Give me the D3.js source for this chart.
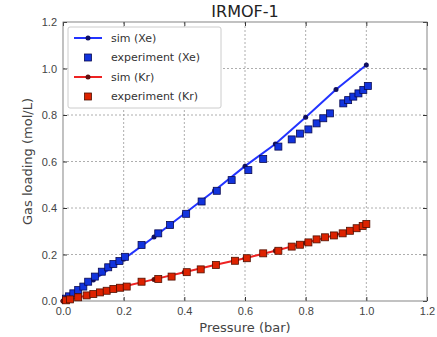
<!DOCTYPE html>
<html>
<head>
<meta charset="utf-8">
<script src="https://cdn.jsdelivr.net/npm/d3@7"></script>
<style>
  body { margin: 0; background: #fff; }
  svg { font-family: "DejaVu Sans", sans-serif; }
  .grid line { stroke: #999; stroke-dasharray: 2,2; stroke-width: 0.8; }
  .tick text { fill: #444; font-size: 11px; }
</style>
</head>
<body>
<svg id="chart"></svg>
<script>
// simulated isotherms (pressure in bar, loading in mol/L)
const simPressure = [0, 0.1, 0.2, 0.3, 0.4, 0.5, 0.6, 0.7, 0.8, 0.9, 1.0];
const simXe = [0, 0.09, 0.18, 0.275, 0.375, 0.475, 0.58, 0.675, 0.79, 0.91, 1.015];
const simKr = [0, 0.03, 0.062, 0.093, 0.124, 0.155, 0.184, 0.216, 0.25, 0.285, 0.33];

// experimental points
const expXePressure = [0.01, 0.02, 0.034, 0.05, 0.067, 0.083, 0.105, 0.128, 0.149, 0.166, 0.186, 0.204,
  0.259, 0.314, 0.353, 0.406, 0.457, 0.507, 0.556, 0.611, 0.66, 0.71, 0.754, 0.781, 0.809, 0.836,
  0.858, 0.88, 0.924, 0.94, 0.957, 0.974, 0.99, 1.005];
const expXe = [0.01, 0.02, 0.033, 0.047, 0.062, 0.083, 0.105, 0.126, 0.145, 0.159, 0.172, 0.19,
  0.241, 0.291, 0.327, 0.375, 0.428, 0.474, 0.52, 0.563, 0.611, 0.664, 0.695, 0.72, 0.738, 0.764,
  0.786, 0.807, 0.85, 0.864, 0.879, 0.893, 0.908, 0.925];
const expKrPressure = [0.01, 0.023, 0.05, 0.078, 0.1, 0.122, 0.144, 0.166, 0.188, 0.21, 0.259, 0.314,
  0.358, 0.408, 0.454, 0.504, 0.567, 0.606, 0.66, 0.71, 0.754, 0.781, 0.809, 0.836, 0.864, 0.893,
  0.922, 0.946, 0.968, 0.988, 1.0];
const expKr = [0.003, 0.007, 0.016, 0.024, 0.03, 0.037, 0.044, 0.052, 0.057, 0.062, 0.083, 0.095,
  0.105, 0.124, 0.136, 0.155, 0.173, 0.184, 0.205, 0.216, 0.234, 0.242, 0.252, 0.265, 0.274, 0.282,
  0.291, 0.302, 0.313, 0.323, 0.331];

const xTicks = [0, 0.2, 0.4, 0.6, 0.8, 1.0, 1.2];
const yTicks = [0, 0.2, 0.4, 0.6, 0.8, 1.0, 1.2];

const width = 437, height = 337;
const margin = { top: 22, right: 10, bottom: 36, left: 63 };
const innerW = width - margin.left - margin.right;
const innerH = height - margin.top - margin.bottom;

const svg = d3.select("#chart").attr("width", width).attr("height", height);
const g = svg.append("g").attr("transform", `translate(${margin.left},${margin.top})`);

const x = d3.scaleLinear().domain([0, 1.2]).range([0, innerW]);
const y = d3.scaleLinear().domain([0, 1.2]).range([innerH, 0]);

// grid
g.append("g").attr("class", "grid")
  .selectAll("line").data(xTicks.slice(1, -1)).join("line")
  .attr("x1", d => x(d)).attr("x2", d => x(d)).attr("y1", 0).attr("y2", innerH);
g.append("g").attr("class", "grid")
  .selectAll("line").data(yTicks.slice(1, -1)).join("line")
  .attr("y1", d => y(d)).attr("y2", d => y(d)).attr("x1", 0).attr("x2", innerW);

// axes, ticks pointing inward like matplotlib classic
const fmt = d3.format(".1f");
const styleAxis = sel => {
  sel.select(".domain").remove();
  sel.selectAll(".tick line").attr("stroke", "#333");
};
g.append("g").attr("transform", `translate(0,${innerH})`)
  .call(d3.axisBottom(x).tickValues(xTicks).tickFormat(fmt).tickSizeInner(-4).tickPadding(6))
  .call(styleAxis);
g.append("g")
  .call(d3.axisLeft(y).tickValues(yTicks).tickFormat(fmt).tickSizeInner(-4).tickPadding(6))
  .call(styleAxis);
g.append("g")
  .call(d3.axisTop(x).tickValues(xTicks).tickFormat("").tickSizeInner(-4))
  .call(styleAxis);
g.append("g").attr("transform", `translate(${innerW},0)`)
  .call(d3.axisRight(y).tickValues(yTicks).tickFormat("").tickSizeInner(-4))
  .call(styleAxis);

g.append("rect").attr("width", innerW).attr("height", innerH)
  .attr("fill", "none").attr("stroke", "#666").attr("stroke-width", 0.8);

// series
const line = d3.line().x(d => x(d[0])).y(d => y(d[1]));
const zip = (a, b) => a.map((v, i) => [v, b[i]]);

const series = [
  { label: "sim (Xe)", type: "sim", data: zip(simPressure, simXe), color: "#2233ff", dot: "#101060" },
  { label: "experiment (Xe)", type: "exp", data: zip(expXePressure, expXe), color: "#1133dd", dot: "#0a0a50" },
  { label: "sim (Kr)", type: "sim", data: zip(simPressure, simKr), color: "#ee2222", dot: "#601010" },
  { label: "experiment (Kr)", type: "exp", data: zip(expKrPressure, expKr), color: "#dd2200", dot: "#501000" },
];

const sq = 7;
series.forEach(s => {
  if (s.type === "sim") {
    g.append("path").datum(s.data).attr("d", line)
      .attr("fill", "none").attr("stroke", s.color).attr("stroke-width", 2);
    g.append("g").selectAll("circle").data(s.data).join("circle")
      .attr("cx", d => x(d[0])).attr("cy", d => y(d[1])).attr("r", 2.5)
      .attr("fill", s.dot);
  } else {
    g.append("g").selectAll("rect").data(s.data).join("rect")
      .attr("x", d => x(d[0]) - sq / 2).attr("y", d => y(d[1]) - sq / 2)
      .attr("width", sq).attr("height", sq)
      .attr("fill", s.color).attr("stroke", s.dot).attr("stroke-width", 0.8);
  }
});

// legend
const legend = g.append("g").attr("transform", "translate(5,5)");
legend.append("rect").attr("width", 153).attr("height", 81).attr("rx", 2)
  .attr("fill", "#fff").attr("stroke", "#ccc");
series.forEach((s, i) => {
  const ly = 11 + i * 19.5;
  const row = legend.append("g").attr("transform", `translate(0,${ly})`);
  if (s.type === "sim") {
    row.append("line").attr("x1", 6).attr("x2", 34).attr("stroke", s.color).attr("stroke-width", 2);
    row.append("circle").attr("cx", 20).attr("r", 2.5).attr("fill", s.dot);
  } else {
    row.append("rect").attr("x", 20 - sq / 2).attr("y", -sq / 2).attr("width", sq).attr("height", sq)
      .attr("fill", s.color).attr("stroke", s.dot).attr("stroke-width", 0.8);
  }
  row.append("text").attr("x", 43).attr("dy", "0.35em")
    .attr("font-size", 11).attr("fill", "#333").text(s.label);
});

// labels
svg.append("text").attr("x", margin.left + innerW / 2).attr("y", 17)
  .attr("text-anchor", "middle").attr("font-size", 16).attr("fill", "#222").text("IRMOF-1");
svg.append("text").attr("x", margin.left + innerW / 2).attr("y", 332)
  .attr("text-anchor", "middle").attr("font-size", 13).attr("fill", "#444").text("Pressure (bar)");
svg.append("text")
  .attr("transform", `translate(32,${margin.top + innerH / 2}) rotate(-90)`)
  .attr("text-anchor", "middle").attr("font-size", 13).attr("fill", "#444").text("Gas loading (mol/L)");
</script>
</body>
</html>
